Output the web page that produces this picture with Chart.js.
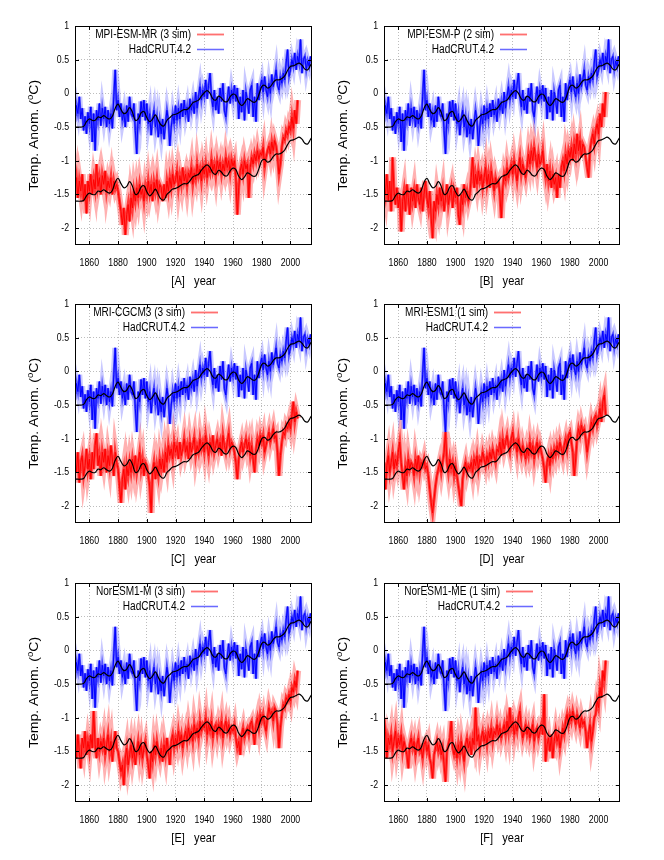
<!DOCTYPE html>
<html>
<head>
<meta charset="utf-8">
<script src="https://cdn.jsdelivr.net/npm/chart.js@4.4.0/dist/chart.umd.min.js"></script>
<style>
  body { margin: 0; background: #fff; }
  #wrap { position: relative; width: 664px; height: 860px; }
  #wrap canvas { position: absolute; }
</style>
</head>
<body>
<div id="wrap"></div>
<script>
// axis ticks
const xTickYears = [1860, 1880, 1900, 1920, 1940, 1960, 1980, 2000];
const yTicks = [1, 0.5, 0, -0.5, -1, -1.5, -2];

// first year of each series
const obsStart = 1850;
const modelStart = 1850;
const smoothStart = 1850;
const smoothStep = 2;
// the smoothed observation curve is drawn a second time, lowered by this much
const smoothShift = -1.1;

// HadCRUT.4.2, one value per year 1850-2014
const hadcrut = [
  -0.42, -0.18, -0.30, -0.05, -0.38, -0.22, -0.55, -0.34, -0.60, -0.28,
  -0.45, -0.20, -0.72, -0.30, -0.85, -0.25, -0.40, -0.15, -0.48, -0.22,
  -0.38, -0.20, -0.50, -0.25, -0.45, -0.30, -0.52, -0.05, 0.35, -0.25,
  -0.10, -0.35, -0.15, -0.40, -0.28, -0.50, -0.18, -0.42, -0.05, -0.30,
  -0.35, -0.15, -0.55, -0.90, -0.30, -0.45, -0.12, -0.35, -0.10, -0.40,
  -0.15, -0.45, -0.30, -0.62, -0.38, -0.25, -0.50, -0.35, -0.65, -0.42,
  -0.60, -0.38, -0.68, -0.45, -0.25, -0.40, -0.78, -0.50, -0.30, -0.45,
  -0.18, -0.40, -0.22, -0.38, -0.15, -0.35, -0.10, -0.32, -0.20, -0.42,
  -0.08, -0.25, -0.12, -0.30, 0.02, -0.22, -0.05, 0.10, -0.10, 0.05,
  -0.05, 0.20, -0.08, 0.12, 0.30, -0.05, -0.20, 0.05, -0.25, -0.05,
  -0.30, 0.08, -0.12, 0.15, -0.25, -0.35, -0.10, 0.10, -0.15, 0.05,
  -0.08, 0.12, -0.12, 0.08, -0.38, -0.05, -0.28, 0.05, -0.40, 0.02,
  -0.10, -0.30, 0.05, 0.12, -0.35, -0.05, -0.42, 0.15, -0.10, 0.10,
  0.20, 0.02, 0.25, 0.05, -0.05, 0.15, 0.00, 0.28, 0.10, 0.20,
  0.35, 0.12, 0.05, 0.25, 0.15, 0.30, 0.20, 0.45, 0.65, 0.25,
  0.35, 0.50, 0.40, 0.60, 0.35, 0.55, 0.45, 0.80, 0.30, 0.50,
  0.55, 0.35, 0.48, 0.40, 0.55
];

// smoothed HadCRUT, every 2 years 1850-2016
const hadcrutSmooth = [
  -0.50, -0.50, -0.50, -0.49, -0.42, -0.38, -0.40, -0.40, -0.35, -0.36,
  -0.33, -0.36, -0.38, -0.34, -0.22, -0.16, -0.24, -0.30, -0.28, -0.21,
  -0.28, -0.40, -0.38, -0.29, -0.27, -0.36, -0.42, -0.38, -0.32, -0.40,
  -0.47, -0.48, -0.40, -0.36, -0.32, -0.31, -0.29, -0.26, -0.24, -0.24,
  -0.20, -0.14, -0.12, -0.10, -0.04, 0.01, 0.04, 0.00, -0.08, -0.10,
  -0.04, -0.07, -0.12, -0.12, -0.05, -0.01, -0.03, -0.13, -0.18, -0.14,
  -0.08, -0.10, -0.13, -0.12, -0.02, 0.10, 0.12, 0.08, 0.10, 0.16,
  0.20, 0.20, 0.22, 0.26, 0.34, 0.40, 0.41, 0.43, 0.45, 0.42,
  0.36, 0.35, 0.42, 0.48
];

// model runs, one value per year 1850-2005
const mpiEsmMr = [
  -1.40, -1.25, -1.55, -1.30, -1.45, -1.20, -1.60, -1.35, -1.78, -1.30,
  -1.45, -1.20, -1.50, -1.28, -1.42, -1.05, -1.38, -1.25, -1.50, -1.22,
  -1.35, -1.15, -1.45, -1.30, -1.40, -1.25, -1.50, -1.30, -1.42, -1.35,
  -1.45, -1.60, -1.75, -1.95, -1.70, -2.10, -1.80, -1.65, -1.90, -1.55,
  -1.70, -1.45, -1.60, -1.40, -1.55, -1.35, -1.50, -1.42, -1.60, -1.38,
  -1.50, -1.30, -1.48, -1.35, -1.60, -1.32, -1.45, -1.28, -1.50, -1.35,
  -1.40, -1.60, -1.35, -1.55, -1.30, -1.45, -1.25, -1.40, -1.20, -1.35,
  -1.28, -1.15, -1.40, -1.22, -1.35, -1.10, -1.30, -1.20, -1.38, -1.18,
  -1.25, -1.10, -1.35, -1.18, -1.28, -1.05, -1.22, -1.12, -1.30, -1.08,
  -1.20, -1.05, -1.25, -1.10, -1.18, -0.98, -1.15, -1.05, -1.22, -1.00,
  -1.12, -1.02, -1.20, -1.05, -1.15, -0.95, -1.10, -1.00, -1.18, -0.98,
  -1.08, -1.00, -1.25, -1.80, -1.40, -1.15, -1.05, -1.20, -1.00, -1.12,
  -1.05, -1.55, -1.10, -0.95, -1.05, -0.90, -1.00, -0.85, -0.98, -0.88,
  -0.92, -0.80, -1.10, -0.95, -0.85, -0.78, -0.90, -0.72, -0.85, -0.70,
  -0.78, -0.95, -1.20, -1.05, -0.80, -0.65, -0.70, -0.55, -0.62, -0.48,
  -0.55, -0.35, -0.52, -0.25, -0.45, -0.10
];
const mpiEsmP = [
  -1.35, -1.50, -1.20, -1.60, -1.30, -1.75, -0.95, -1.45, -1.65, -1.40,
  -1.70, -1.50, -2.05, -1.60, -1.45, -1.75, -1.35, -1.55, -1.80, -1.40,
  -1.60, -1.45, -1.70, -1.35, -1.55, -1.65, -1.40, -1.75, -1.50, -1.30,
  -1.55, -1.70, -1.45, -1.85, -2.15, -1.60, -1.75, -1.50, -1.65, -1.40,
  -1.60, -1.45, -1.75, -1.55, -1.35, -1.65, -1.50, -1.40, -1.70, -1.45,
  -1.55, -1.40, -1.80, -1.95, -1.50, -1.65, -1.35, -1.55, -1.45, -1.60,
  -1.50, -1.25, -0.95, -1.40, -1.20, -1.35, -1.15, -1.30, -1.20, -1.40,
  -1.25, -1.10, -1.35, -1.20, -1.40, -1.15, -1.30, -1.45, -1.25, -1.35,
  -1.30, -1.50, -1.85, -1.40, -1.20, -1.30, -1.10, -1.25, -1.15, -1.05,
  -1.20, -1.00, -1.15, -1.30, -1.10, -0.95, -1.20, -1.05, -1.15, -1.25,
  -1.10, -0.90, -1.05, -0.85, -1.00, -0.80, -0.95, -1.10, -0.90, -1.05,
  -1.00, -0.85, -1.10, -1.25, -1.05, -1.30, -1.15, -1.40, -1.20, -1.35,
  -1.25, -1.55, -1.20, -1.40, -1.10, -1.00, -1.15, -0.90, -1.05, -0.85,
  -0.95, -0.80, -1.00, -0.75, -0.90, -0.60, -0.85, -0.70, -0.95, -0.75,
  -0.80, -0.95, -1.10, -1.25, -0.85, -0.70, -0.60, -0.75, -0.55, -0.45,
  -0.60, -0.30, -0.50, -0.15, -0.35, 0.02
];
const mriCgcm3 = [
  -1.30, -1.50, -1.20, -1.65, -1.35, -1.25, -1.55, -1.40, -1.15, -1.45,
  -1.30, -1.60, -1.20, -1.45, -1.10, -0.92, -1.40, -1.25, -1.55, -1.20,
  -1.35, -1.15, -1.50, -1.25, -1.40, -1.10, -1.30, -1.55, -1.20, -1.35,
  -1.45, -1.70, -1.95, -1.60, -1.45, -1.75, -1.40, -1.55, -1.35, -1.50,
  -1.30, -1.45, -1.25, -1.50, -1.35, -1.20, -1.45, -1.30, -1.55, -1.35,
  -1.40, -1.55, -1.70, -2.10, -1.50, -1.35, -1.60, -1.40, -1.55, -1.30,
  -1.45, -1.30, -1.50, -1.20, -1.35, -1.10, -1.25, -1.15, -1.30, -1.05,
  -1.20, -1.10, -1.30, -1.05, -1.25, -1.15, -1.00, -1.20, -1.10, -1.30,
  -1.05, -1.20, -1.10, -0.98, -1.25, -1.10, -1.20, -1.00, -1.15, -1.05,
  -1.20, -0.95, -1.10, -1.25, -1.05, -1.15, -0.95, -1.20, -1.10, -1.00,
  -1.15, -1.05, -1.25, -0.95, -1.10, -1.20, -1.05, -0.92, -1.15, -1.05,
  -1.10, -1.20, -1.35, -1.60, -1.30, -1.15, -1.05, -1.20, -1.10, -1.00,
  -1.15, -1.05, -1.25, -1.10, -1.30, -1.50, -1.15, -1.00, -1.10, -0.95,
  -1.05, -0.95, -1.20, -1.10, -1.00, -0.90, -1.05, -0.95, -0.85, -1.00,
  -0.95, -1.20, -1.55, -1.25, -1.05, -0.90, -0.95, -0.80, -0.85, -0.75,
  -0.85, -0.65, -0.45, -0.75, -0.60, -0.70
];
const mriEsm1 = [
  -1.35, -1.75, -1.40, -1.25, -1.50, -1.35, -1.20, -1.45, -1.30, -1.40,
  -1.20, -1.05, -1.35, -1.55, -1.75, -1.40, -1.55, -1.30, -1.45, -1.35,
  -1.40, -1.55, -1.30, -1.45, -1.25, -1.50, -1.35, -1.40, -1.30, -1.45,
  -1.40, -1.55, -1.75, -1.95, -2.10, -1.90, -1.70, -1.55, -1.45, -1.35,
  -1.50, -1.35, -1.20, -0.90, -1.35, -1.50, -1.30, -1.45, -1.35, -1.55,
  -1.40, -1.55, -1.70, -1.85, -2.00, -1.60, -1.45, -1.35, -1.50, -1.40,
  -1.45, -1.35, -1.50, -1.30, -1.40, -1.25, -1.45, -1.30, -1.35, -1.20,
  -1.30, -1.40, -1.25, -1.35, -1.20, -1.30, -1.15, -1.25, -1.35, -1.15,
  -1.20, -1.05, -1.25, -1.00, -1.15, -1.05, -0.95, -1.10, -1.20, -1.00,
  -0.90, -1.10, -1.05, -1.20, -1.00, -1.15, -1.25, -1.10, -1.20, -1.30,
  -1.15, -1.25, -1.05, -1.20, -1.10, -1.30, -1.15, -1.05, -1.20, -1.10,
  -1.20, -1.30, -1.45, -1.65, -1.35, -1.25, -1.40, -1.20, -1.30, -1.15,
  -1.25, -1.10, -1.20, -1.05, -1.15, -1.25, -1.10, -1.00, -1.15, -0.95,
  -0.90, -1.05, -1.20, -1.55, -1.30, -1.00, -0.85, -0.95, -0.80, -0.90,
  -0.85, -1.00, -1.20, -1.05, -0.90, -0.75, -0.85, -0.70, -0.65, -0.80,
  -0.70, -0.55, -0.75, -0.45, -0.35, -0.65
];
const norEsm1M = [
  -1.40, -1.60, -1.25, -1.50, -1.75, -1.30, -1.45, -1.20, -1.55, -1.35,
  -1.50, -1.25, -1.45, -0.90, -1.40, -1.60, -1.30, -1.50, -1.35, -1.45,
  -1.30, -1.55, -1.40, -1.25, -1.50, -1.35, -1.65, -1.40, -1.20, -1.45,
  -1.50, -1.65, -1.80, -1.70, -2.00, -1.60, -1.45, -1.70, -1.55, -1.40,
  -1.60, -1.45, -1.70, -1.50, -1.35, -1.55, -1.40, -1.60, -1.45, -1.35,
  -1.55, -1.70, -1.90, -1.50, -1.65, -1.40, -1.55, -1.35, -1.50, -1.60,
  -1.45, -1.65, -1.40, -1.55, -1.30, -1.50, -1.70, -1.35, -1.25, -1.45,
  -1.30, -1.40, -1.20, -1.35, -1.25, -1.45, -1.30, -1.20, -1.35, -1.15,
  -1.30, -1.20, -1.35, -1.10, -1.25, -1.15, -1.30, -1.05, -1.20, -1.10,
  -1.15, -1.00, -1.25, -1.10, -1.20, -1.05, -1.30, -1.15, -1.10, -1.25,
  -1.10, -1.20, -1.05, -1.30, -1.15, -1.05, -1.20, -1.10, -1.25, -1.15,
  -1.20, -1.10, -1.30, -1.45, -1.35, -1.55, -1.25, -1.15, -1.30, -1.20,
  -1.15, -1.25, -1.10, -1.05, -1.20, -1.40, -1.10, -1.00, -1.15, -0.95,
  -1.05, -0.95, -1.10, -1.20, -1.00, -0.85, -0.95, -0.90, -1.05, -0.85,
  -0.90, -1.10, -1.45, -1.15, -0.95, -0.80, -0.85, -0.70, -0.75, -0.65,
  -0.75, -0.55, -0.62, -0.45, -0.55, -0.30
];
const norEsm1Me = [
  -1.00, -1.20, -1.60, -1.30, -1.40, -1.25, -1.50, -1.35, -1.20, -1.45,
  -1.30, -1.40, -1.25, -1.50, -1.35, -1.45, -1.55, -1.75, -1.40, -1.30,
  -1.45, -1.35, -1.55, -1.40, -1.30, -1.50, -1.45, -1.60, -1.40, -1.35,
  -1.50, -1.40, -1.60, -1.70, -1.90, -1.55, -1.45, -1.35, -1.50, -1.40,
  -1.55, -1.45, -1.70, -1.95, -1.50, -1.40, -1.30, -1.05, -1.45, -1.55,
  -1.45, -1.60, -1.40, -1.55, -1.35, -1.50, -1.65, -1.40, -1.30, -1.45,
  -1.35, -1.55, -1.30, -1.40, -0.85, -1.35, -1.25, -1.45, -1.30, -1.20,
  -1.35, -1.25, -1.40, -1.20, -1.30, -1.15, -1.35, -1.20, -1.25, -1.10,
  -1.25, -1.15, -1.30, -1.20, -1.10, -1.25, -1.05, -1.20, -0.85, -1.15,
  -1.05, -1.25, -1.10, -1.20, -1.00, -0.90, -1.15, -1.30, -1.20, -1.10,
  -1.25, -1.15, -1.30, -1.20, -1.10, -1.35, -1.20, -1.15, -1.30, -1.20,
  -1.10, -1.25, -0.65, -1.65, -1.40, -1.30, -1.50, -1.25, -1.60, -1.35,
  -1.20, -1.35, -1.25, -1.45, -1.30, -1.15, -1.25, -1.05, -0.95, -1.10,
  -0.95, -1.05, -0.90, -1.00, -1.10, -0.95, -1.05, -1.15, -1.00, -1.10,
  -1.05, -1.20, -1.45, -1.25, -1.10, -1.35, -1.20, -1.00, -0.95, -0.75,
  -0.85, -0.55, -0.70, -0.30, -0.45, -0.15
];

const panelLetters = ['A', 'B', 'C', 'D', 'E', 'F'];
const modelLabels = ['MPI-ESM-MR (3 sim)', 'MPI-ESM-P (2 sim)', 'MRI-CGCM3 (3 sim)',
                     'MRI-ESM1 (1 sim)', 'NorESM1-M (3 sim)', 'NorESM1-ME (1 sim)'];
const modelSeries = [mpiEsmMr, mpiEsmP, mriCgcm3, mriEsm1, norEsm1M, norEsm1Me];
const obsLabel = 'HadCRUT.4.2';

// layout of the six panels (canvas origin and plot box inside it)
const CANVAS_W = 332, CANVAS_H = 290;
const PLOT_TOP = 26, PLOT_H = 219;
const layout = [
  { left: 0,   top: 0,   plotLeft: 75, plotRight: 312 },
  { left: 332, top: 0,   plotLeft: 52, plotRight: 288 },
  { left: 0,   top: 278, plotLeft: 75, plotRight: 312 },
  { left: 332, top: 278, plotLeft: 52, plotRight: 288 },
  { left: 0,   top: 557, plotLeft: 75, plotRight: 312 },
  { left: 332, top: 557, plotLeft: 52, plotRight: 288 }
];

const RED_CORE = '#ff0000', RED_MID = 'rgba(255,20,20,0.75)', RED_BAND = 'rgba(255,70,70,0.42)';
const BLUE_CORE = '#0000ff', BLUE_MID = 'rgba(20,20,255,0.65)', BLUE_BAND = 'rgba(100,100,255,0.35)';
const FONT = '"Liberation Sans", Arial, Helvetica, sans-serif';
const SQUEEZE = 0.82; // text in the original is horizontally condensed

const toPoints = (arr, start, step = 1) => arr.map((v, i) => ({ x: start + i * step, y: v }));

function squeezedText(ctx, text, x, y, align, size) {
  ctx.save();
  ctx.translate(x, y);
  ctx.scale(SQUEEZE, 1);
  ctx.font = size + 'px ' + FONT;
  ctx.textAlign = align;
  ctx.textBaseline = 'middle';
  ctx.fillStyle = '#000';
  ctx.fillText(text, 0, 0);
  ctx.restore();
}

// frame, inward ticks, tick labels, key, axis titles
const panelDecor = {
  id: 'panelDecor',
  afterDraw(chart, args, opts) {
    const { ctx, chartArea: a, scales: { x, y } } = chart;
    ctx.save();
    ctx.strokeStyle = '#000';
    ctx.lineWidth = 1;
    ctx.strokeRect(a.left + 0.5, a.top + 0.5, a.right - a.left - 1, a.bottom - a.top - 1);
    ctx.beginPath();
    xTickYears.forEach(v => {
      const px = Math.round(x.getPixelForValue(v)) + 0.5;
      ctx.moveTo(px, a.bottom); ctx.lineTo(px, a.bottom - 4);
      ctx.moveTo(px, a.top); ctx.lineTo(px, a.top + 4);
    });
    yTicks.forEach(v => {
      const py = Math.round(y.getPixelForValue(v)) + 0.5;
      ctx.moveTo(a.left, py); ctx.lineTo(a.left + 4, py);
      ctx.moveTo(a.right, py); ctx.lineTo(a.right - 4, py);
    });
    ctx.stroke();

    // tick labels
    xTickYears.forEach(v => squeezedText(ctx, String(v), x.getPixelForValue(v), a.bottom + 18, 'center', 10.7));
    yTicks.forEach(v => squeezedText(ctx, String(v), a.left - 6, y.getPixelForValue(v), 'right', 10.7));

    // key, gnuplot style: right-justified text then sample
    const textEnd = a.left + 8 + 6 * opts.label.length;
    const rows = [
      { text: opts.label, band: RED_BAND, core: 'rgba(255,40,40,0.6)' },
      { text: obsLabel, band: BLUE_BAND, core: 'rgba(30,30,255,0.7)' }
    ];
    rows.forEach((r, i) => {
      const ry = a.top + 8.5 + 15 * i;
      squeezedText(ctx, r.text, textEnd, ry, 'right', 12.3);
      ctx.beginPath();
      ctx.moveTo(textEnd + 6, ry); ctx.lineTo(textEnd + 33, ry);
      ctx.strokeStyle = r.band; ctx.lineWidth = 2.5; ctx.stroke();
      ctx.strokeStyle = r.core; ctx.lineWidth = 0.8; ctx.stroke();
    });

    // y title with superscript o
    ctx.save();
    ctx.translate(a.left - 40, (a.top + a.bottom) / 2);
    ctx.rotate(-Math.PI / 2);
    ctx.scale(1, 0.9);
    ctx.textAlign = 'left';
    ctx.textBaseline = 'middle';
    ctx.fillStyle = '#000';
    const big = '14px ' + FONT, small = '9.5px ' + FONT;
    const parts = [['Temp. Anom. (', big, 0], ['o', small, -5], ['C)', big, 0]];
    let total = 0;
    parts.forEach(p => { ctx.font = p[1]; total += ctx.measureText(p[0]).width; });
    let tx = -total / 2;
    parts.forEach(p => {
      ctx.font = p[1];
      ctx.fillText(p[0], tx, p[2]);
      tx += ctx.measureText(p[0]).width;
    });
    ctx.restore();

    // x caption
    squeezedText(ctx, '[' + opts.letter + ']   year', (a.left + a.right) / 2, a.bottom + 36, 'center', 13.5);
    ctx.restore();
  }
};

const wrap = document.getElementById('wrap');

modelSeries.forEach((series, k) => {
  const L = layout[k];
  const canvas = document.createElement('canvas');
  canvas.width = CANVAS_W;
  canvas.height = CANVAS_H;
  canvas.style.left = L.left + 'px';
  canvas.style.top = L.top + 'px';
  wrap.appendChild(canvas);

  const smoothHigh = toPoints(hadcrutSmooth, smoothStart, smoothStep);
  const smoothLow = hadcrutSmooth.map((v, i) => ({ x: smoothStart + i * smoothStep, y: v + smoothShift }));
  const obs = toPoints(hadcrut, obsStart);
  const mod = toPoints(series, modelStart);
  const noisy = { pointRadius: 0, tension: 0, fill: false, borderJoinStyle: 'miter' };

  new Chart(canvas.getContext('2d'), {
    type: 'line',
    data: {
      datasets: [
        { data: smoothHigh, borderColor: '#000', borderWidth: 1.2, pointRadius: 0, tension: 0.4, order: 0 },
        { data: smoothLow, borderColor: '#000', borderWidth: 1.2, pointRadius: 0, tension: 0.4, order: 1 },
        { data: obs, borderColor: BLUE_CORE, borderWidth: 1, order: 2, ...noisy },
        { data: obs, borderColor: BLUE_MID, borderWidth: 2.5, order: 3, ...noisy },
        { data: obs, borderColor: BLUE_BAND, borderWidth: 6, order: 4, ...noisy },
        { data: mod, borderColor: RED_CORE, borderWidth: 1, order: 5, ...noisy },
        { data: mod, borderColor: RED_MID, borderWidth: 3, order: 6, ...noisy },
        { data: mod, borderColor: RED_BAND, borderWidth: 7, order: 7, ...noisy }
      ]
    },
    options: {
      responsive: false,
      animation: false,
      devicePixelRatio: 1,
      layout: { padding: { left: 0, top: PLOT_TOP, right: CANVAS_W - L.plotRight, bottom: 0 } },
      plugins: {
        legend: { display: false },
        tooltip: { enabled: false },
        panelDecor: { label: modelLabels[k], letter: panelLetters[k] }
      },
      scales: {
        x: {
          type: 'linear',
          min: 1850,
          max: 2015,
          afterBuildTicks: s => { s.ticks = xTickYears.map(v => ({ value: v })); },
          afterFit: s => { s.height = CANVAS_H - PLOT_TOP - PLOT_H; },
          ticks: { display: false },
          grid: { color: '#bdbdbd', lineWidth: 1, drawTicks: false },
          border: { display: false, dash: [1, 2] }
        },
        y: {
          min: -2.25,
          max: 1,
          afterBuildTicks: s => { s.ticks = yTicks.map(v => ({ value: v })); },
          afterFit: s => { s.width = L.plotLeft; },
          ticks: { display: false },
          grid: { color: '#bdbdbd', lineWidth: 1, drawTicks: false },
          border: { display: false, dash: [1, 2] }
        }
      }
    },
    plugins: [panelDecor]
  });
});
</script>
</body>
</html>
